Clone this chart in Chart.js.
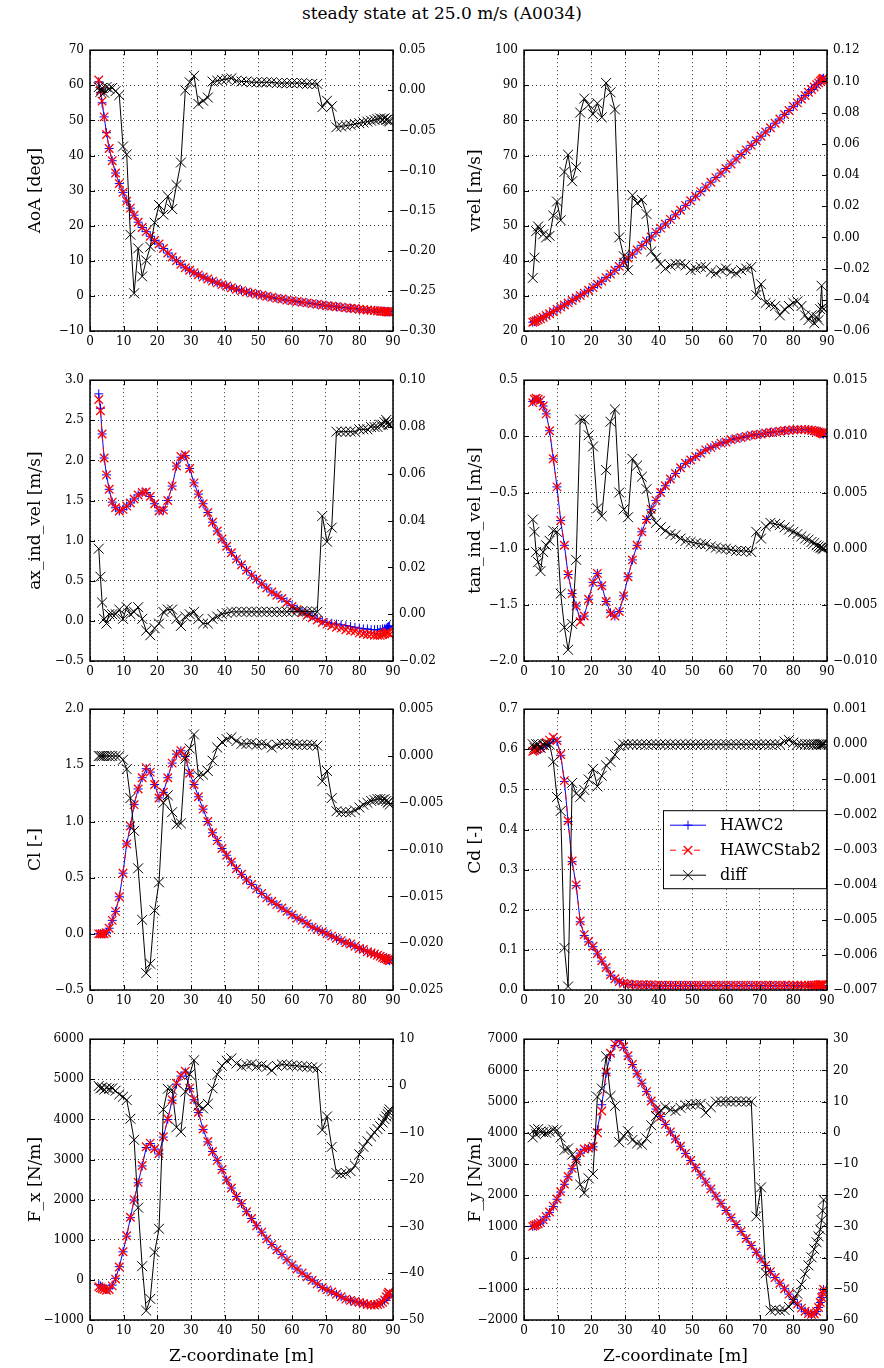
<!DOCTYPE html>
<html>
<head>
<meta charset="utf-8">
<script src="https://cdn.jsdelivr.net/npm/chart.js@4.4.0/dist/chart.umd.min.js"></script>
<style>
body { margin: 0; background: #fff; }
#page { position: relative; width: 884px; height: 1368px; overflow: hidden; background: #fff; }
#title { position: absolute; left: 0; top: 3px; width: 884px; text-align: center; font: 17px "DejaVu Serif"; color: #000; }
canvas { position: absolute; }
</style>
</head>
<body>
<div id="page">
  <div id="title">steady state at 25.0 m/s (A0034)</div>
</div>
<script>
// Z-coordinate of the blade sections [m]
const z = [
  2.6, 3.1, 3.6, 4.2, 4.9, 5.7, 6.6, 7.6, 8.7, 9.8,
  10.9, 12.0, 13.1, 14.3, 15.5, 16.7, 17.9, 19.2, 20.5, 21.8,
  23.1, 24.4, 25.7, 27.0, 28.3, 29.6, 30.9, 32.2, 33.6, 35.0,
  36.4, 37.8, 39.2, 40.6, 42.0, 43.5, 45.0, 46.5, 48.0, 49.5,
  51.0, 52.5, 54.0, 55.5, 57.0, 58.5, 60.0, 61.5, 63.0, 64.5,
  66.0, 67.5, 69.0, 70.4, 71.8, 73.2, 74.6, 76.0, 77.4, 78.7,
  80.0, 81.2, 82.4, 83.5, 84.5, 85.4, 86.2, 86.9, 87.5, 88.0,
  88.4, 88.7, 89.0];

// AoA [deg]
const aoaH2 = [
  61, 58, 55, 51, 46.5, 42, 38.5, 35, 32, 29.5,
  27, 25, 23, 21, 19.5, 18.3, 17, 15.8, 14.8, 13.5,
  12.2, 11.1, 10, 9, 8, 7.3, 6.6, 6, 5.4, 4.8,
  4.2, 3.7, 3.2, 2.8, 2.3, 1.9, 1.5, 1.1, 0.8, 0.5,
  0.2, -0.1, -0.4, -0.7, -0.9, -1.2, -1.4, -1.6, -1.8, -2.0,
  -2.2, -2.4, -2.6, -2.8, -2.9, -3.1, -3.2, -3.4, -3.5, -3.6,
  -3.8, -3.9, -4.0, -4.1, -4.2, -4.3, -4.3, -4.4, -4.4, -4.5,
  -4.5, -4.5, -4.6];
const aoaHS2 = [
  61.5, 58.5, 55.5, 51, 46, 42, 38.5, 35, 32, 29.5,
  27, 25, 23, 21, 19.5, 18.3, 17, 15.8, 14.8, 13.5,
  12.2, 11.1, 10, 9, 8, 7.3, 6.6, 6, 5.4, 4.8,
  4.2, 3.7, 3.2, 2.8, 2.3, 1.9, 1.5, 1.1, 0.8, 0.5,
  0.2, -0.1, -0.4, -0.7, -0.9, -1.2, -1.4, -1.6, -1.8, -2.0,
  -2.2, -2.4, -2.6, -2.8, -2.9, -3.1, -3.2, -3.4, -3.5, -3.6,
  -3.8, -3.9, -4.0, -4.1, -4.2, -4.3, -4.3, -4.4, -4.4, -4.5,
  -4.5, -4.6, -4.6];
const aoaDiff = [
  0.004, -0.002, 0.003, -0.003, 0.004, 0.002, 0.003, -0.001, -0.006, -0.070,
  -0.080, -0.180, -0.253, -0.197, -0.232, -0.212, -0.195, -0.165, -0.143, -0.155,
  -0.132, -0.148, -0.118, -0.090, 0.000, 0.010, 0.018, -0.017, -0.013, -0.009,
  0.011, 0.012, 0.013, 0.014, 0.015, 0.012, 0.011, 0.011, 0.010, 0.010,
  0.010, 0.010, 0.010, 0.009, 0.009, 0.009, 0.009, 0.009, 0.009, 0.008,
  0.008, 0.008, -0.021, -0.013, -0.020, -0.046, -0.045, -0.044, -0.043, -0.042,
  -0.041, -0.040, -0.039, -0.038, -0.037, -0.036, -0.035, -0.036, -0.035, -0.037,
  -0.036, -0.038, -0.039];

// vrel [m/s]
const vrelH2 = [
  22.5, 22.7, 22.9, 23.2, 23.5, 23.9, 24.4, 24.9, 25.5, 26.2,
  26.8, 27.4, 28.0, 28.7, 29.4, 30.1, 30.8, 31.6, 32.4, 33.3,
  34.2, 35.2, 36.2, 37.3, 38.4, 39.6, 40.8, 41.9, 43.1, 44.4,
  45.6, 46.8, 48.1, 49.3, 50.5, 51.8, 53.1, 54.4, 55.8, 57.1,
  58.4, 59.7, 61.0, 62.4, 63.7, 65.0, 66.3, 67.6, 69.0, 70.3,
  71.6, 72.9, 74.2, 75.5, 76.7, 77.9, 79.2, 80.4, 81.7, 82.8,
  84.0, 85.0, 86.1, 87.1, 88.0, 88.8, 89.5, 90.2, 90.7, 91.2,
  91.5, 91.8, 92.0];
const vrelHS2 = [
  22.5, 22.7, 22.9, 23.2, 23.5, 23.9, 24.4, 24.9, 25.5, 26.2,
  26.8, 27.4, 28.0, 28.7, 29.4, 30.1, 30.8, 31.6, 32.4, 33.3,
  34.2, 35.2, 36.2, 37.3, 38.4, 39.6, 40.8, 41.9, 43.1, 44.4,
  45.6, 46.8, 48.1, 49.3, 50.5, 51.8, 53.1, 54.4, 55.8, 57.1,
  58.4, 59.7, 61.0, 62.4, 63.7, 65.0, 66.3, 67.6, 69.0, 70.3,
  71.6, 72.9, 74.2, 75.5, 76.7, 77.9, 79.2, 80.4, 81.7, 82.8,
  84.0, 85.0, 86.1, 87.1, 88.0, 88.8, 89.5, 90.2, 90.7, 91.2,
  91.5, 91.8, 92.0];
const vrelDiff = [
  -0.026, -0.013, 0.004, 0.007, 0.005, 0.002, 0.000, 0.001, 0.014, 0.023,
  0.011, 0.042, 0.053, 0.036, 0.045, 0.080, 0.089, 0.085, 0.079, 0.086,
  0.077, 0.099, 0.093, 0.082, 0.000, -0.012, -0.021, 0.027, 0.022, 0.024,
  0.015, -0.009, -0.013, -0.017, -0.020, -0.018, -0.017, -0.017, -0.018, -0.021,
  -0.020, -0.019, -0.019, -0.022, -0.023, -0.021, -0.020, -0.022, -0.023, -0.021,
  -0.020, -0.019, -0.037, -0.030, -0.042, -0.043, -0.044, -0.050, -0.046, -0.044,
  -0.042, -0.041, -0.044, -0.050, -0.053, -0.050, -0.055, -0.051, -0.053, -0.046,
  -0.031, -0.045, -0.046];

// axial induced velocity [m/s]
const axH2 = [
  2.83, 2.65, 2.33, 2.03, 1.82, 1.64, 1.48, 1.41, 1.37, 1.39,
  1.43, 1.47, 1.52, 1.57, 1.60, 1.60, 1.55, 1.46, 1.37, 1.38,
  1.50, 1.68, 1.93, 2.04, 2.06, 1.90, 1.72, 1.58, 1.46, 1.35,
  1.23, 1.12, 1.02, 0.93, 0.85, 0.77, 0.70, 0.63, 0.57, 0.52,
  0.46, 0.41, 0.36, 0.32, 0.28, 0.24, 0.19, 0.15, 0.12, 0.09,
  0.06, 0.03, 0.00, -0.02, -0.03, -0.04, -0.05, -0.06, -0.07, -0.08,
  -0.09, -0.10, -0.10, -0.11, -0.11, -0.11, -0.11, -0.10, -0.10, -0.09,
  -0.08, -0.07, -0.06];
const axHS2 = [
  2.76, 2.62, 2.33, 2.03, 1.82, 1.64, 1.48, 1.41, 1.37, 1.39,
  1.43, 1.47, 1.52, 1.57, 1.60, 1.61, 1.55, 1.46, 1.37, 1.38,
  1.50, 1.68, 1.93, 2.05, 2.07, 1.90, 1.72, 1.58, 1.46, 1.35,
  1.23, 1.12, 1.02, 0.93, 0.85, 0.77, 0.70, 0.63, 0.57, 0.52,
  0.46, 0.41, 0.36, 0.32, 0.28, 0.23, 0.18, 0.14, 0.10, 0.07,
  0.04, 0.01, -0.02, -0.04, -0.06, -0.08, -0.09, -0.11, -0.12, -0.13,
  -0.15, -0.16, -0.17, -0.17, -0.18, -0.18, -0.18, -0.17, -0.16, -0.15,
  -0.14, -0.15, -0.17];
const axDiff = [
  0.028, 0.016, 0.005, -0.002, -0.004, 0.000, 0.000, 0.000, 0.002, -0.002,
  0.003, 0.000, 0.001, 0.003, -0.002, -0.007, -0.009, -0.006, -0.004, 0.001,
  0.002, 0.002, -0.002, -0.005, -0.001, 0.000, 0.001, -0.002, -0.004, -0.004,
  -0.002, -0.001, 0.000, 0.0005, 0.001, 0.001, 0.001, 0.001, 0.001, 0.001,
  0.001, 0.001, 0.001, 0.001, 0.001, 0.001, 0.0012, 0.0012, 0.0012, 0.0012,
  0.0012, 0.001, 0.042, 0.031, 0.037, 0.078, 0.078, 0.078, 0.078, 0.078,
  0.079, 0.079, 0.079, 0.080, 0.080, 0.080, 0.081, 0.081, 0.082, 0.083,
  0.082, 0.081, 0.081];

// tangential induced velocity [m/s]
const tanH2 = [
  0.31, 0.32, 0.33, 0.33, 0.31, 0.27, 0.20, 0.05, -0.20, -0.45,
  -0.75, -0.97, -1.23, -1.40, -1.51, -1.63, -1.60, -1.45, -1.30, -1.22,
  -1.33, -1.47, -1.57, -1.60, -1.56, -1.42, -1.25, -1.10, -0.97, -0.85,
  -0.74, -0.65, -0.57, -0.50, -0.44, -0.38, -0.33, -0.28, -0.24, -0.21,
  -0.18, -0.15, -0.12, -0.10, -0.08, -0.06, -0.05, -0.03, -0.02, -0.01,
  0.00, 0.01, 0.015, 0.02, 0.03, 0.035, 0.04, 0.045, 0.05, 0.055,
  0.058, 0.06, 0.06, 0.06, 0.058, 0.055, 0.05, 0.045, 0.04, 0.035,
  0.03, 0.025, 0.02];
const tanHS2 = [
  0.30, 0.33, 0.34, 0.33, 0.32, 0.27, 0.20, 0.05, -0.20, -0.45,
  -0.75, -0.97, -1.23, -1.40, -1.51, -1.65, -1.60, -1.45, -1.30, -1.22,
  -1.33, -1.47, -1.58, -1.60, -1.56, -1.42, -1.25, -1.10, -0.97, -0.85,
  -0.74, -0.65, -0.57, -0.50, -0.44, -0.38, -0.33, -0.28, -0.24, -0.21,
  -0.18, -0.15, -0.12, -0.10, -0.08, -0.06, -0.05, -0.03, -0.02, -0.01,
  0.00, 0.01, 0.015, 0.02, 0.03, 0.035, 0.04, 0.045, 0.05, 0.055,
  0.058, 0.06, 0.06, 0.06, 0.058, 0.055, 0.05, 0.045, 0.04, 0.035,
  0.03, 0.025, 0.02];
const tanDiff = [
  0.0026, 0.0015, -0.0003, -0.0012, -0.0020, -0.0003, 0.0003, 0.0007, 0.0016, 0.0015,
  -0.0040, -0.0070, -0.0090, -0.0067, -0.0010, 0.0115, 0.0115, 0.0101, 0.0091, 0.0036,
  0.0029, 0.0070, 0.0113, 0.0124, 0.0050, 0.0035, 0.0028, 0.0080, 0.0074, 0.0064,
  0.0053, 0.0030, 0.0023, 0.0019, 0.0016, 0.0013, 0.0012, 0.0009, 0.0007, 0.0006,
  0.0005, 0.0004, 0.0004, 0.0002, 0.0001, 0.0000, 0.0000, -0.0001, -0.0002, -0.0002,
  -0.0002, -0.0003, 0.0015, 0.0009, 0.0020, 0.0023, 0.0022, 0.0021, 0.0019, 0.0017,
  0.0015, 0.0013, 0.0011, 0.0009, 0.0008, 0.0006, 0.0005, 0.0003, 0.0002, 0.0001,
  0.0001, 0.0000, 0.0000];

// lift coefficient Cl [-]
const clH2 = [
  0.00, 0.00, 0.00, 0.00, 0.01, 0.05, 0.12, 0.20, 0.33, 0.54,
  0.80, 0.96, 1.15, 1.29, 1.39, 1.47, 1.44, 1.33, 1.21, 1.26,
  1.39, 1.52, 1.60, 1.63, 1.58, 1.43, 1.33, 1.22, 1.11, 1.00,
  0.90, 0.83, 0.76, 0.70, 0.64, 0.58, 0.53, 0.48, 0.44, 0.40,
  0.36, 0.32, 0.29, 0.26, 0.23, 0.20, 0.17, 0.14, 0.12, 0.09,
  0.06, 0.04, 0.02, 0.00, -0.02, -0.04, -0.06, -0.08, -0.09, -0.11,
  -0.13, -0.14, -0.16, -0.17, -0.18, -0.19, -0.20, -0.21, -0.22, -0.22,
  -0.23, -0.23, -0.24];
const clHS2 = [
  0.00, 0.00, 0.00, 0.00, 0.01, 0.05, 0.12, 0.20, 0.33, 0.54,
  0.80, 0.96, 1.15, 1.29, 1.39, 1.48, 1.44, 1.33, 1.21, 1.26,
  1.39, 1.52, 1.60, 1.63, 1.58, 1.43, 1.33, 1.22, 1.11, 1.00,
  0.90, 0.83, 0.76, 0.70, 0.64, 0.58, 0.53, 0.48, 0.44, 0.40,
  0.36, 0.32, 0.29, 0.26, 0.23, 0.20, 0.17, 0.14, 0.12, 0.09,
  0.06, 0.04, 0.02, 0.00, -0.02, -0.04, -0.06, -0.08, -0.09, -0.11,
  -0.13, -0.14, -0.16, -0.17, -0.18, -0.19, -0.20, -0.21, -0.22, -0.22,
  -0.23, -0.23, -0.24];
const clDiff = [
  0.0, 0.0, 0.0, 0.0, 0.0, 0.0, 0.0, 0.0, 0.0, -0.0004,
  -0.0014, -0.0045, -0.0080, -0.0120, -0.0175, -0.0232, -0.0222, -0.0165, -0.0135, -0.0050,
  -0.0042, -0.0060, -0.0073, -0.0072, -0.0003, 0.0008, 0.0023, -0.0021, -0.0020, -0.0016,
  -0.0005, 0.0009, 0.0015, 0.0018, 0.0020, 0.0016, 0.0013, 0.0013, 0.0014, 0.0012,
  0.0013, 0.0012, 0.0009, 0.0012, 0.0013, 0.0013, 0.0013, 0.0012, 0.0012, 0.0012,
  0.0012, 0.0011, -0.0027, -0.0016, -0.0045, -0.0059, -0.0060, -0.0060, -0.0060, -0.0058,
  -0.0055, -0.0052, -0.0050, -0.0048, -0.0047, -0.0046, -0.0046, -0.0047, -0.0046, -0.0048,
  -0.0050, -0.0049, -0.0052];

// drag coefficient Cd [-]
const cdH2 = [
  0.600, 0.600, 0.600, 0.600, 0.600, 0.605, 0.610, 0.615, 0.625, 0.620,
  0.585, 0.520, 0.420, 0.320, 0.260, 0.170, 0.136, 0.120, 0.108, 0.090,
  0.072, 0.055, 0.037, 0.027, 0.020, 0.016, 0.014, 0.013, 0.012, 0.012,
  0.012, 0.012, 0.011, 0.011, 0.011, 0.011, 0.011, 0.011, 0.011, 0.011,
  0.011, 0.011, 0.011, 0.011, 0.011, 0.011, 0.011, 0.011, 0.011, 0.011,
  0.011, 0.011, 0.011, 0.011, 0.011, 0.011, 0.011, 0.011, 0.011, 0.011,
  0.011, 0.011, 0.011, 0.011, 0.011, 0.011, 0.011, 0.011, 0.011, 0.011,
  0.011, 0.011, 0.011];
const cdHS2 = [
  0.595, 0.597, 0.600, 0.602, 0.604, 0.610, 0.617, 0.623, 0.630, 0.622,
  0.587, 0.522, 0.422, 0.322, 0.262, 0.172, 0.138, 0.121, 0.109, 0.091,
  0.073, 0.056, 0.038, 0.028, 0.021, 0.017, 0.015, 0.014, 0.013, 0.013,
  0.013, 0.013, 0.012, 0.012, 0.012, 0.012, 0.012, 0.012, 0.012, 0.012,
  0.012, 0.012, 0.012, 0.012, 0.012, 0.012, 0.012, 0.012, 0.012, 0.012,
  0.012, 0.012, 0.012, 0.012, 0.012, 0.012, 0.012, 0.012, 0.012, 0.012,
  0.012, 0.012, 0.012, 0.012, 0.012, 0.012, 0.012, 0.012, 0.013, 0.013,
  0.013, 0.013, 0.013];
const cdDiff = [
  0.0, -0.0001, 0.0, 0.0, -0.0001, 0.0, 0.0, 0.0, -0.0005, -0.0015,
  -0.0019, -0.0058, -0.0069, -0.0011, -0.0014, -0.0015, -0.0013, -0.0010, -0.0007, -0.0012,
  -0.0009, -0.0006, -0.0005, -0.0003, -0.00005, 0.0, 0.0, 0.0, 0.0, 0.0,
  0.0, 0.0, 0.0, 0.0, 0.0, 0.0, 0.0, 0.0, 0.0, 0.0,
  0.0, 0.0, 0.0, 0.0, 0.0, 0.0, 0.0, 0.0, 0.0, 0.0,
  0.0, 0.0, 0.0, 0.0, 0.0, 0.0, 0.0, 0.0, 0.00008, 0.00012,
  0.00005, 0.0, 0.0, 0.0, 0.0, 0.0, 0.0, 0.0, 0.0, 0.0,
  0.0, 0.0, 0.0];

// F_x [N/m]
const fxH2 = [
  -120, -150, -180, -210, -230, -220, -130, 40, 330, 700,
  1090, 1550, 1990, 2420, 2840, 3300, 3400, 3260, 3140, 3560,
  4000, 4480, 4880, 5080, 5180, 4770, 4490, 4170, 3750, 3440,
  3200, 2980, 2750, 2490, 2290, 2080, 1900, 1700, 1530, 1350,
  1190, 1020, 880, 750, 630, 500, 370, 270, 170, 80,
  -10, -100, -190, -250, -300, -360, -420, -480, -510, -540,
  -560, -590, -610, -620, -615, -600, -580, -550, -510, -460,
  -420, -380, -350];
const fxHS2 = [
  -170, -200, -220, -240, -260, -240, -150, 20, 320, 700,
  1100, 1560, 2000, 2430, 2850, 3320, 3410, 3270, 3150, 3570,
  4010, 4490, 4900, 5100, 5200, 4780, 4500, 4180, 3760, 3450,
  3200, 2980, 2750, 2490, 2290, 2080, 1900, 1700, 1530, 1350,
  1190, 1020, 880, 750, 630, 500, 370, 270, 170, 80,
  -10, -100, -190, -250, -300, -360, -420, -480, -510, -540,
  -560, -590, -615, -625, -625, -615, -595, -560, -500, -420,
  -350, -310, -330];
const fxDiff = [
  0.0, -0.5, -0.3, -0.8, -0.4, -0.6, -0.5, -1.0, -1.8, -2.3,
  -3.0, -7.0, -11.5, -26.0, -38.5, -48.0, -45.5, -35.5, -30.5, -5.0,
  -0.6, -0.8, -8.8, -9.8, -1.2, 2.5, 5.5, -4.2, -4.8, -3.8,
  -0.5, 2.5, 4.3, 5.4, 5.9, 4.8, 4.2, 4.5, 4.7, 4.2,
  4.4, 4.1, 3.3, 4.3, 4.6, 4.5, 4.4, 4.3, 4.2, 4.1,
  4.0, 3.8, -9.4, -6.5, -13.0, -18.6, -18.8, -18.6, -18.2, -17.0,
  -14.6, -13.0, -11.8, -10.8, -9.9, -9.2, -8.6, -7.8, -7.1, -6.5,
  -6.0, -5.5, -5.0];

// F_y [N/m]
const fyH2 = [
  1000, 1020, 1045, 1075, 1110, 1200, 1310, 1450, 1640, 1870,
  2100, 2350, 2590, 2850, 3150, 3350, 3470, 3500, 3550, 4100,
  4900, 5910, 6500, 6800, 6960, 6740, 6460, 6190, 5890, 5590,
  5320, 5020, 4760, 4520, 4270, 4030, 3800, 3570, 3340, 3110,
  2880, 2650, 2420, 2200, 1970, 1740, 1510, 1280, 1060, 840,
  610, 390, 170, -40, -250, -450, -640, -820, -1000, -1170,
  -1340, -1490, -1620, -1720, -1790, -1820, -1800, -1730, -1600, -1440,
  -1280, -1130, -1020];
const fyHS2 = [
  1000, 1030, 1055, 1085, 1120, 1210, 1320, 1460, 1650, 1880,
  2110, 2360, 2600, 2860, 3170, 3370, 3480, 3510, 3560, 4000,
  4700, 5950, 6550, 6850, 6980, 6760, 6470, 6200, 5900, 5600,
  5320, 5020, 4760, 4520, 4270, 4030, 3800, 3570, 3340, 3110,
  2880, 2650, 2420, 2200, 1970, 1740, 1510, 1280, 1060, 840,
  610, 390, 170, -40, -250, -450, -640, -820, -1000, -1170,
  -1340, -1490, -1620, -1720, -1790, -1820, -1800, -1730, -1600, -1440,
  -1280, -1130, -1020];
const fyDiff = [
  -1.5, 1.0, -0.5, 1.2, 0.4, 0.2, 0.0, 0.3, 1.0, 0.8,
  -1.5, -5.5, -5.0, -7.0, -9.0, -16.6, -19.3, -14.6, -13.2, 11.5,
  14.2, 24.5, 11.8, 8.6, -3.0, -1.0, 0.5, -2.3, -3.4, -3.8,
  -1.8, 2.4, 5.4, 7.2, 8.3, 7.4, 7.0, 8.0, 8.8, 9.0,
  9.2, 9.3, 6.4, 8.2, 10.0, 10.0, 10.1, 10.0, 10.1, 10.0,
  10.0, 10.0, -26.8, -17.5, -45.0, -57.0, -56.6, -57.0, -56.8, -55.8,
  -54.0, -51.6, -48.6, -45.2, -42.5, -39.9, -37.3, -35.1, -33.2, -31.0,
  -28.0, -25.0, -21.5];

// top of each row of plots on the page (px)
const rowTops = [49, 379, 708, 1038];
const fontName = '"DejaVu Serif"';

// one entry per subplot; left/right = [min, max, step, decimals]
const panels = [
  {col: 0, row: 0, ylabel: 'AoA [deg]', h2: aoaH2, hs2: aoaHS2, diff: aoaDiff, left: [-10, 70, 10, 0], right: [-0.30, 0.05, 0.05, 2]},
  {col: 1, row: 0, ylabel: 'vrel [m/s]', h2: vrelH2, hs2: vrelHS2, diff: vrelDiff, left: [20, 100, 10, 0], right: [-0.06, 0.12, 0.02, 2]},
  {col: 0, row: 1, ylabel: 'ax_ind_vel [m/s]', h2: axH2, hs2: axHS2, diff: axDiff, left: [-0.5, 3.0, 0.5, 1], right: [-0.02, 0.10, 0.02, 2]},
  {col: 1, row: 1, ylabel: 'tan_ind_vel [m/s]', h2: tanH2, hs2: tanHS2, diff: tanDiff, left: [-2.0, 0.5, 0.5, 1], right: [-0.010, 0.015, 0.005, 3]},
  {col: 0, row: 2, ylabel: 'Cl [-]', h2: clH2, hs2: clHS2, diff: clDiff, left: [-0.5, 2.0, 0.5, 1], right: [-0.025, 0.005, 0.005, 3]},
  {col: 1, row: 2, ylabel: 'Cd [-]', h2: cdH2, hs2: cdHS2, diff: cdDiff, left: [0.0, 0.7, 0.1, 1], right: [-0.007, 0.001, 0.001, 3], legend: true},
  {col: 0, row: 3, ylabel: 'F_x [N/m]', h2: fxH2, hs2: fxHS2, diff: fxDiff, left: [-1000, 6000, 1000, 0], right: [-50, 10, 10, 0]},
  {col: 1, row: 3, ylabel: 'F_y [N/m]', h2: fyH2, hs2: fyHS2, diff: fyDiff, left: [-2000, 7000, 1000, 0], right: [-60, 30, 10, 0]}
];

function fmt(v, dec) {
  if (Math.abs(v) < 1e-12) v = 0;
  return v.toFixed(dec).replace('-', '\u2212');
}

function pts(vals) {
  return z.map((x, i) => ({x: x, y: vals[i]}));
}

// + and x markers, used for the legend samples
function drawMark(ctx, style, x, y, r) {
  ctx.beginPath();
  if (style === 'cross') {
    ctx.moveTo(x - r, y); ctx.lineTo(x + r, y);
    ctx.moveTo(x, y - r); ctx.lineTo(x, y + r);
  } else {
    const d = r * Math.SQRT1_2;
    ctx.moveTo(x - d, y - d); ctx.lineTo(x + d, y + d);
    ctx.moveTo(x - d, y + d); ctx.lineTo(x + d, y - d);
  }
  ctx.stroke();
}

// matplotlib-like frame with inward ticks
const frameTicks = {
  id: 'frameTicks',
  afterDraw(chart) {
    const ctx = chart.ctx, a = chart.chartArea, s = chart.scales;
    ctx.save();
    ctx.strokeStyle = '#000';
    ctx.lineWidth = 1;
    ctx.beginPath();
    s.x.ticks.forEach(t => {
      const p = Math.round(s.x.getPixelForValue(t.value)) + 0.5;
      ctx.moveTo(p, a.bottom); ctx.lineTo(p, a.bottom - 5);
      ctx.moveTo(p, a.top); ctx.lineTo(p, a.top + 5);
    });
    s.y.ticks.forEach(t => {
      const p = Math.round(s.y.getPixelForValue(t.value)) + 0.5;
      ctx.moveTo(a.left, p); ctx.lineTo(a.left + 5, p);
    });
    s.y1.ticks.forEach(t => {
      const p = Math.round(s.y1.getPixelForValue(t.value)) + 0.5;
      ctx.moveTo(a.right, p); ctx.lineTo(a.right - 5, p);
    });
    ctx.stroke();
    ctx.lineWidth = 1.5;
    ctx.strokeRect(a.left, a.top, a.right - a.left, a.bottom - a.top);
    ctx.restore();
  }
};

// boxed legend inside the plot area (only the Cd plot has one)
const boxLegend = {
  id: 'boxLegend',
  afterDraw(chart, args, opts) {
    if (!opts.show) return;
    const ctx = chart.ctx, a = chart.chartArea;
    const w = 164, h = 79;
    const x0 = a.right - w, y0 = a.top + 101;
    ctx.save();
    ctx.fillStyle = '#fff';
    ctx.fillRect(x0, y0, w, h);
    ctx.strokeStyle = '#000';
    ctx.lineWidth = 1;
    ctx.strokeRect(x0 + 0.5, y0 + 0.5, w - 1, h - 1);
    chart.data.datasets.forEach((ds, i) => {
      const y = y0 + 15 + i * 25;
      ctx.strokeStyle = ds.borderColor;
      ctx.lineWidth = 1;
      ctx.setLineDash(ds.borderDash || []);
      ctx.beginPath(); ctx.moveTo(x0 + 7, y); ctx.lineTo(x0 + 43, y); ctx.stroke();
      ctx.setLineDash([]);
      ctx.lineWidth = ds.pointBorderWidth;
      drawMark(ctx, ds.pointStyle, x0 + 25, y, ds.pointRadius);
      ctx.fillStyle = '#000';
      ctx.font = '16px ' + fontName;
      ctx.textBaseline = 'middle';
      ctx.fillText(ds.label, x0 + 57, y + 1);
    });
    ctx.restore();
  }
};

const page = document.getElementById('page');

panels.forEach(p => {
  const cv = document.createElement('canvas');
  const left = p.col === 0 ? 0 : 440;
  const w = p.col === 0 ? 480 : 444;
  const lw = p.col === 0 ? 90 : 84;   // room for left ticks + ylabel
  const rw = w - lw - 303;            // room for right ticks
  const top = rowTops[p.row] - 12;
  const h = p.row === 3 ? 342 : 322;
  const xh = p.row === 3 ? 48 : 28;
  cv.width = w; cv.height = h;
  cv.style.left = left + 'px'; cv.style.top = top + 'px';
  cv.style.width = w + 'px'; cv.style.height = h + 'px';
  page.appendChild(cv);

  const tickFont = {family: fontName, size: 12};
  const labelFont = {family: fontName, size: 17};

  new Chart(cv, {
    type: 'line',
    data: {
      datasets: [
        {label: 'HAWC2', data: pts(p.h2), yAxisID: 'y', borderColor: '#0000ff', borderWidth: 1,
         pointStyle: 'cross', pointRadius: 4.5, pointBorderColor: '#0000ff', pointBorderWidth: 1, order: 3},
        {label: 'HAWCStab2', data: pts(p.hs2), yAxisID: 'y', borderColor: '#ff0000', borderWidth: 1, borderDash: [6, 6],
         pointStyle: 'crossRot', pointRadius: 6, pointBorderColor: '#ff0000', pointBorderWidth: 1.3, order: 2},
        {label: 'diff', data: pts(p.diff), yAxisID: 'y1', borderColor: '#000000', borderWidth: 1,
         pointStyle: 'crossRot', pointRadius: 7, pointBorderColor: '#000000', pointBorderWidth: 1, order: 1}
      ]
    },
    options: {
      responsive: false,
      animation: false,
      devicePixelRatio: 1,
      layout: {padding: {top: 12, left: 0, right: 0, bottom: 0}},
      plugins: {
        legend: {display: false},
        tooltip: {enabled: false},
        boxLegend: {show: !!p.legend}
      },
      scales: {
        x: {
          type: 'linear', min: 0, max: 90,
          ticks: {stepSize: 10, font: tickFont, color: '#000', padding: 4, autoSkip: false, maxRotation: 0,
                  callback: v => fmt(v, 0)},
          grid: {color: 'rgba(0,0,0,0.8)', lineWidth: 1, drawTicks: false},
          border: {display: false, dash: [1, 3]},
          title: {display: p.row === 3, text: 'Z-coordinate [m]', font: labelFont, color: '#000', padding: {top: 0, bottom: 1}},
          afterFit: s => { s.height = xh; }
        },
        y: {
          type: 'linear', position: 'left', min: p.left[0], max: p.left[1],
          ticks: {stepSize: p.left[2], font: tickFont, color: '#000', padding: 6, autoSkip: false,
                  callback: v => fmt(v, p.left[3])},
          grid: {color: 'rgba(0,0,0,0.8)', lineWidth: 1, drawTicks: false},
          border: {display: false, dash: [1, 3]},
          title: {display: true, text: p.ylabel, font: labelFont, color: '#000', padding: {top: 25, bottom: 0}},
          afterFit: s => { s.width = lw; }
        },
        y1: {
          type: 'linear', position: 'right', min: p.right[0], max: p.right[1],
          ticks: {stepSize: p.right[2], font: tickFont, color: '#000', padding: 6, autoSkip: false,
                  callback: v => fmt(v, p.right[3])},
          grid: {display: false, drawOnChartArea: false, drawTicks: false},
          border: {display: false},
          afterFit: s => { s.width = rw; }
        }
      }
    },
    plugins: [frameTicks, boxLegend]
  });
});
</script>
</body>
</html>
